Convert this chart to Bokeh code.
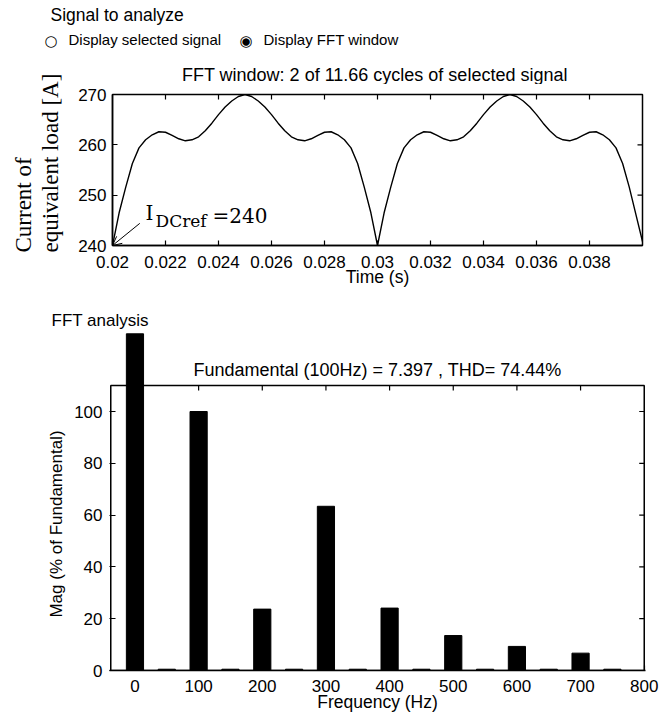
import numpy as np
from bokeh.plotting import figure
from bokeh.models import Range1d, FixedTicker, Label, Arrow, OpenHead, BoxAnnotation
from bokeh.layouts import column, row
from bokeh.embed import file_html
from bokeh.resources import INLINE

# ---------------- data: signal (FFT window) ----------------
TIME_START = 0.02
TIME_STEP = 0.00025
CURRENT = [
    240.0, 246.5, 251.6, 256.3, 259.4, 261.0, 262.0, 262.6, 262.5, 261.9,
    261.2, 260.8, 261.0, 261.6, 262.8, 264.3, 266.0, 267.5, 268.7, 269.6,
    270.0, 269.6, 268.7, 267.5, 266.0, 264.3, 262.8, 261.6, 261.0, 260.8,
    261.2, 261.9, 262.5, 262.6, 262.0, 261.0, 259.4, 256.3, 251.6, 246.5,
    240.0, 246.5, 251.6, 256.3, 259.4, 261.0, 262.0, 262.6, 262.5, 261.9,
    261.2, 260.8, 261.0, 261.6, 262.8, 264.3, 266.0, 267.5, 268.7, 269.6,
    270.0, 269.6, 268.7, 267.5, 266.0, 264.3, 262.8, 261.6, 261.0, 260.8,
    261.2, 261.9, 262.5, 262.6, 262.0, 261.0, 259.4, 256.3, 251.6, 246.2,
    240.8,
]
TIME = [round(TIME_START + TIME_STEP * k, 6) for k in range(len(CURRENT))]
T_RANGE = (0.02, 0.04)
I_RANGE = (240, 270)
T_TICKS = [0.02, 0.022, 0.024, 0.026, 0.028, 0.03, 0.032, 0.034, 0.036, 0.038]
T_TICK_LABELS = ["0.02", "0.022", "0.024", "0.026", "0.028", "0.03",
                 "0.032", "0.034", "0.036", "0.038"]
I_TICKS = [240, 250, 260, 270]
I_DCREF = 240
ARROW_FROM = (0.02103, 244.4)

# ---------------- data: FFT analysis ----------------
FREQ = [0, 50, 100, 150, 200, 250, 300, 350, 400, 450, 500, 550, 600, 650, 700, 750]
MAG = [130.0, 0.5, 100.0, 0.5, 23.7, 0.5, 63.4, 0.5, 24.1, 0.5, 13.5, 0.5, 9.3, 0.5, 6.7, 0.5]
F_TICKS = [0, 100, 200, 300, 400, 500, 600, 700, 800]
MAG_TICKS = [0, 20, 40, 60, 80, 100]
F_AXIS = (-38, 800)
MAG_AXIS_TOP = 110
BAR_WIDTH = 27

SANS = "Liberation Sans"
SERIF = "Liberation Serif"
SERIF2 = "DejaVu Serif"
W = 664
LW = 70   # width of the y-label strips
DY = 6    # label baseline calibration


def style_axis(ax, ticks):
    ax.ticker = FixedTicker(ticks=ticks)
    ax.major_tick_in = 5
    ax.major_tick_out = 0
    ax.major_tick_line_color = "black"
    ax.major_tick_line_width = 1.2
    ax.minor_tick_line_color = None
    ax.axis_line_color = "black"
    ax.axis_line_width = 1.5
    ax.major_label_text_font = SANS
    ax.major_label_text_font_size = "17px"
    ax.major_label_text_color = "black"
    ax.axis_label_text_font = SANS
    ax.axis_label_text_font_size = "17.5px"
    ax.axis_label_text_font_style = "normal"
    ax.axis_label_text_color = "black"


def lab(p, text, x, y, size, font=SANS, align="left", angle=0.0, dy=DY, units="screen"):
    p.add_layout(Label(x=x, y=y + dy, x_units=units, y_units="screen", text=text,
                       text_font=font, text_font_size=size, text_color="black",
                       text_align=align, text_baseline="alphabetic", angle=angle))


def blank(width, height):
    b = figure(width=width, height=height, x_range=Range1d(0, 1), y_range=Range1d(0, 1),
               x_axis_type=None, y_axis_type=None, min_border=0,
               output_backend="svg", toolbar_location=None)
    b.outline_line_color = None
    b.background_fill_color = "white"
    b.border_fill_color = "white"
    return b


# ---------------- header (page y 0..60) ----------------
head = blank(W, 60)
lab(head, "Signal to analyze", 50, 40, "17.5px")
lab(head, "\u25cb", 44, 14, "15px", font="DejaVu Sans")
lab(head, "Display selected signal", 68, 15, "15px")
lab(head, "\u25c9", 239, 14, "15px", font="DejaVu Sans")
lab(head, "Display FFT window", 263, 15, "15px")

# ---------------- title of top plot (page y 60..84) ----------------
title1 = blank(W - LW, 24)
lab(title1, "FFT window: 2 of 11.66 cycles of selected signal", 0.495, 4, "18px",
    align="center", units="data")

# ---------------- y label of top plot (page x 0..70, y 60..300) ----------------
ylab1 = blank(LW, 240)
lab(ylab1, "Current of", 23, 48, "23px", font=SERIF, angle=np.pi / 2, dy=0)
lab(ylab1, "equivalent load [A]", 50, 48, "23px", font=SERIF, angle=np.pi / 2, dy=0)

# ---------------- top plot (page y 84..300) ----------------
p1 = figure(width=W - LW, height=216, x_range=Range1d(*T_RANGE), y_range=Range1d(*I_RANGE),
            output_backend="svg", toolbar_location=None,
            min_border_left=112 - LW, min_border_right=22, min_border_top=10,
            min_border_bottom=55)
p1.grid.visible = False
p1.outline_line_color = "black"
p1.outline_line_width = 1.5
p1.background_fill_color = "white"
p1.border_fill_color = "white"

p1.line(TIME, CURRENT, line_color="black", line_width=1.4)

style_axis(p1.xaxis[0], T_TICKS)
p1.xaxis[0].major_label_overrides = {t: s for t, s in zip(T_TICKS, T_TICK_LABELS)}
p1.xaxis[0].major_label_standoff = 10
p1.xaxis[0].axis_label = "Time (s)"
p1.xaxis[0].axis_label_standoff = -4
style_axis(p1.yaxis[0], I_TICKS)
p1.yaxis[0].major_label_standoff = 6

p1.ray(x=T_TICKS[1:], y=I_RANGE[1], length=5, length_units="screen", angle=-np.pi / 2,
       line_color="black", line_width=1.2)
p1.ray(x=T_RANGE[1], y=I_TICKS[1:-1], length=5, length_units="screen", angle=np.pi,
       line_color="black", line_width=1.2)

p1.add_layout(Arrow(end=OpenHead(size=9, line_width=1, line_color="black"),
                    x_start=ARROW_FROM[0], y_start=ARROW_FROM[1],
                    x_end=TIME[0], y_end=I_DCREF, line_width=1, line_color="black"))
lab(p1, "I", 33, 27, "20px", font=SERIF2)
lab(p1, "DCref", 43, 18.5, "17px", font=SERIF2)
lab(p1, "=240", 100, 23.5, "20px", font=SERIF2)

# ---------------- strip with "FFT analysis" (page y 300..331) ----------------
strip = blank(W, 31)
lab(strip, "FFT analysis", 51, 5, "17px")

# ---------------- bottom plot (page y 331..720) ----------------
FRAME_H = 339
Y_END = FRAME_H / 2.59
p2 = figure(width=W - LW, height=389, x_range=Range1d(-40, 802), y_range=Range1d(0, Y_END),
            output_backend="svg", toolbar_location=None,
            min_border_left=109 - LW, min_border_right=W - 645, min_border_top=0,
            min_border_bottom=389 - FRAME_H)
p2.grid.visible = False
p2.outline_line_color = None
p2.background_fill_color = "white"
p2.border_fill_color = "white"

p2.vbar(x=FREQ, top=MAG, width=BAR_WIDTH, fill_color="black", line_color="black", line_width=1)
p2.add_layout(BoxAnnotation(left=F_AXIS[0], right=F_AXIS[1], bottom=0, top=MAG_AXIS_TOP,
                            fill_color=None, fill_alpha=0, line_color="black",
                            line_alpha=1.0, line_width=1.5))

style_axis(p2.xaxis[0], F_TICKS)
p2.xaxis[0].major_label_standoff = 9
p2.xaxis[0].axis_label = "Frequency (Hz)"
p2.xaxis[0].axis_label_standoff = -3
style_axis(p2.yaxis[0], MAG_TICKS)
p2.yaxis[0].axis_line_color = None
p2.yaxis[0].major_tick_in = 6
p2.yaxis[0].major_label_standoff = 7

p2.ray(x=F_TICKS[1:-1], y=MAG_AXIS_TOP, length=5, length_units="screen", angle=-np.pi / 2,
       line_color="black", line_width=1.2)
p2.ray(x=F_AXIS[1], y=MAG_TICKS[1:], length=5, length_units="screen", angle=np.pi,
       line_color="black", line_width=1.2)

lab(p2, "Fundamental (100Hz) = 7.397 , THD= 74.44%", 268, 295, "18px", align="center")

# y label of bottom plot (its frame is aligned with the bottom plot's frame: y 331..670)
ylab2 = blank(LW, 389)
lab(ylab2, "Mag (% of Fundamental)", 56, 670 - 523.5, "17px", align="center",
    angle=np.pi / 2, dy=0)

layout = column(head, row(ylab1, column(title1, p1)), strip, row(ylab2, p2))
open("out.html", "w").write(file_html(layout, INLINE))
